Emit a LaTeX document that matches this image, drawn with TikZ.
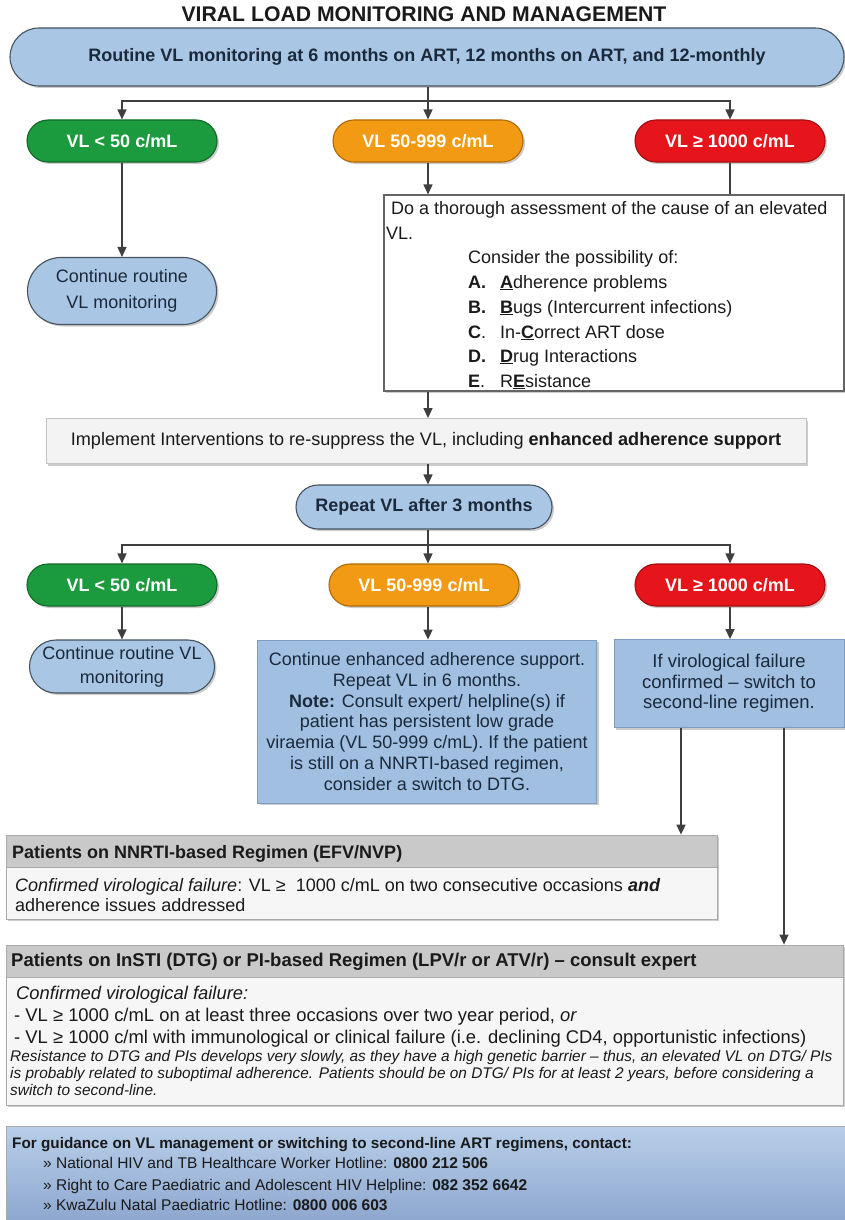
\documentclass[tikz,border=0pt]{standalone}
\usepackage{fontspec}
\setmainfont{Liberation Sans}
\usetikzlibrary{arrows.meta,shapes.misc,shadows}
\definecolor{linec}{HTML}{3F3F3F}
\definecolor{pillblue}{HTML}{AAC6E5}
\definecolor{pillline}{HTML}{46525E}
\definecolor{boxblue}{HTML}{A1BFE1}
\definecolor{boxblueline}{HTML}{7F9DBF}
\definecolor{navy}{HTML}{1B2A3B}
\definecolor{vgreen}{HTML}{1B9B3D}
\definecolor{vgreenline}{HTML}{0F6A28}
\definecolor{vorange}{HTML}{F29A14}
\definecolor{vorangeline}{HTML}{B06A05}
\definecolor{vred}{HTML}{E6151C}
\definecolor{vredline}{HTML}{A30C10}
\definecolor{grayhead}{HTML}{C9C9C9}
\definecolor{graybody}{HTML}{F6F6F6}
\definecolor{grayline}{HTML}{AAAAAA}
\definecolor{implfill}{HTML}{F3F3F3}
\definecolor{footblue}{HTML}{A6C3E4}
\definecolor{txt}{HTML}{1A1A1A}
\tikzset{
  ln/.style={draw=linec, line width=1.5pt},
  arr/.style={ln, -{Triangle[width=9pt,length=10pt]}},
  shad/.style={drop shadow={shadow xshift=2pt, shadow yshift=-2pt, opacity=0.2, fill=black}},
  bluepill/.style={rounded rectangle, draw=pillline, line width=1.1pt, fill=pillblue, text=navy, inner sep=0pt, align=center, shad},
  colpill/.style={rounded rectangle, line width=1.1pt, minimum width=190pt, minimum height=42pt, inner sep=0pt, text=white, font=\fontsize{18}{21}\selectfont\bfseries, shad},
  gpill/.style={colpill, fill=vgreen, draw=vgreenline},
  opill/.style={colpill, fill=vorange, draw=vorangeline},
  rpill/.style={colpill, fill=vred, draw=vredline},
  bluebox/.style={rectangle, fill=boxblue, draw=boxblueline, line width=0.8pt, text=navy, inner sep=0pt, align=center, font=\fontsize{18}{20.8}\selectfont, shad},
  txtline/.style={anchor=base west, inner sep=0pt, text=txt},
  grayframe/.style={rectangle, fill=graybody, draw=grayline, line width=0.8pt, inner sep=0pt, shad},
  grayhdr/.style={rectangle, fill=grayhead, draw=grayline, line width=0.8pt, inner sep=0pt, anchor=north},
}
\begin{document}
\begin{tikzpicture}[x=1pt,y=-1pt]
\useasboundingbox (0,0) rectangle (845,1220);
% title
\node[anchor=base, inner sep=0pt, text=txt, font=\fontsize{21.2}{24}\selectfont\bfseries] (title) at (424,22) {VIRAL LOAD MONITORING AND MANAGEMENT};
% top box
\node[bluepill, minimum width=834pt, minimum height=58pt, font=\fontsize{18}{21}\selectfont\bfseries] (top) at (427,57) {Routine VL monitoring at 6 months on ART, 12 months on ART, and 12-monthly};
% row 1
\node[gpill] (g1) at (122,141) {VL < 50 c/mL};
\node[opill] (o1) at (428,141) {VL 50-999 c/mL};
\node[rpill] (r1) at (730,141) {VL ≥ 1000 c/mL};
\coordinate (j1) at (428,101);
\draw[ln] (top.south -| j1) -- (j1);
\draw[arr] (j1) -| (g1.north);
\draw[arr] (j1) -- (o1.north);
\draw[arr] (j1) -| (r1.north);
% continue 1
\node[bluepill, minimum width=189pt, minimum height=67pt, font=\fontsize{18}{26}\selectfont] (c1) at (122,291) {Continue routine\\VL monitoring};
\draw[arr] (g1.south) -- (c1.north);
% assessment box
\node[rectangle, fill=white, draw=linec!80, line width=1.1pt, minimum width=460pt, minimum height=196pt, inner sep=0pt, shad] (as) at (614,293) {};
\draw[arr] (o1.south) -- (o1.south |- as.north);
\draw[ln] (r1.south) -- (r1.south |- as.north);
\begin{scope}[every node/.style={txtline, font=\fontsize{18}{22}\selectfont}]
\node (as1) at (391,214) {Do a thorough assessment of the cause of an elevated};
\node (as2) at (386,239) {VL.};
\node (as3) at (468,263) {Consider the possibility of:};
\node (asA) at (468,288) {\textbf{A.}};
\node (asAt) at (500,288) {\underline{\textbf{A}}dherence problems};
\node (asB) at (468,313) {\textbf{B.}};
\node (asBt) at (500,313) {\underline{\textbf{B}}ugs (Intercurrent infections)};
\node (asC) at (468,338) {\textbf{C}.};
\node (asCt) at (500,338) {In-\underline{\textbf{C}}orrect ART dose};
\node (asD) at (468,362) {\textbf{D.}};
\node (asDt) at (500,362) {\underline{\textbf{D}}rug Interactions};
\node (asE) at (468,387) {\textbf{E}.};
\node (asEt) at (500,387) {R\underline{\textbf{E}}sistance};
\end{scope}
% implement
\node[rectangle, fill=implfill, draw=grayline!70, line width=0.8pt, minimum width=760pt, minimum height=45pt, inner sep=0pt, text=txt, font=\fontsize{18.1}{21}\selectfont, shad] (impl) at (426,441) {Implement Interventions to re-suppress the VL, including \textbf{enhanced adherence support}};
\draw[arr] (o1 |- as.south) -- (o1 |- impl.north);
% repeat
\node[bluepill, minimum width=256pt, minimum height=44pt, font=\fontsize{18}{21}\selectfont\bfseries] (rep) at (424,507) {Repeat VL after 3 months};
\draw[arr] (o1 |- impl.south) -- (o1 |- rep.north);
% row 2
\node[gpill] (g2) at (122,585) {VL < 50 c/mL};
\node[opill] (o2) at (424,585) {VL 50-999 c/mL};
\node[rpill] (r2) at (730,585) {VL ≥ 1000 c/mL};
\coordinate (j2) at (428,545);
\draw[ln] (o1 |- rep.south) -- (j2);
\draw[arr] (j2) -| (g2.north);
\draw[arr] (j2) -- (o1 |- o2.north);
\draw[arr] (j2) -| (r2.north);
% row 2 outcomes
\node[bluepill, minimum width=185pt, minimum height=53pt, font=\fontsize{18}{24}\selectfont] (c2) at (122,666.5) {Continue routine VL\\monitoring};
\draw[arr] (g2.south) -- (c2.north);
\node[bluebox, minimum width=339pt, minimum height=163pt] (ob) at (427,721.5) {Continue enhanced adherence support.\\Repeat VL in 6 months.\\\textbf{Note:} Consult expert/ helpline(s) if\\patient has persistent low grade\\viraemia (VL 50-999 c/mL). If the patient\\is still on a NNRTI-based regimen,\\consider a switch to DTG.};
\draw[arr] (o1 |- o2.south) -- (o1 |- ob.north);
\node[bluebox, minimum width=230pt, minimum height=88pt, font=\fontsize{18.5}{20.5}\selectfont] (rb) at (729,683.5) {If virological failure\\confirmed – switch to\\second-line regimen.};
\draw[arr] (r2.south) -- (r2.south |- rb.north);
% NNRTI box
\node[grayframe, minimum width=711pt, minimum height=84pt] (nb) at (361.5,877) {};
\node[grayhdr, minimum width=711pt, minimum height=32pt] (nbh) at (nb.north) {};
\node[txtline, font=\fontsize{18}{21}\selectfont\bfseries] (nbt) at (12,858) {Patients on NNRTI-based Regimen (EFV/NVP)};
\node[txtline, font=\fontsize{18}{21}\selectfont] (nb1) at (15,891) {\textit{Confirmed virological failure}: VL ≥\ \ 1000 c/mL on two consecutive occasions \textbf{\textit{and}}};
\node[txtline, font=\fontsize{18}{21}\selectfont] (nb2) at (15,911) {adherence issues addressed};
\coordinate (x1) at (681,0);
\coordinate (x2) at (784,0);
\draw[arr] (rb.south -| x1) -- (nb.north -| x1);
% InSTI box
\node[grayframe, minimum width=837pt, minimum height=160pt] (ib) at (424.5,1025) {};
\node[grayhdr, minimum width=837pt, minimum height=32pt] (ibh) at (ib.north) {};
\draw[arr] (rb.south -| x2) -- (ib.north -| x2);
\node[txtline, font=\fontsize{18.5}{21}\selectfont\bfseries] (ibt) at (11,966) {Patients on InSTI (DTG) or PI-based Regimen (LPV/r or ATV/r) – consult expert};
\node[txtline, font=\fontsize{18.4}{21}\selectfont\itshape] (ib1) at (16,999) {Confirmed virological failure:};
\node[txtline, font=\fontsize{18.4}{21}\selectfont] (ib2) at (14,1021) { - VL ≥ 1000 c/mL on at least three occasions over two year period, \textit{or}};
\node[txtline, font=\fontsize{18.4}{21}\selectfont] (ib3) at (14,1043) { - VL ≥ 1000 c/ml with immunological or clinical failure (i.e. declining CD4, opportunistic infections)};
\node[txtline, font=\fontsize{15.4}{17}\selectfont\itshape] (ib4) at (10,1061) {Resistance to DTG and PIs develops very slowly, as they have a high genetic barrier – thus, an elevated VL on DTG/ PIs};
\node[txtline, font=\fontsize{15.4}{17}\selectfont\itshape] (ib5) at (10,1078) {is probably related to suboptimal adherence. Patients should be on DTG/ PIs for at least 2 years, before considering a};
\node[txtline, font=\fontsize{15.4}{17}\selectfont\itshape] (ib6) at (10,1095) {switch to second-line.};
% footer
\node[rectangle, top color=footblue!80!white, bottom color=footblue!95!blue!90!black, draw=grayline, line width=0.8pt, minimum width=839pt, minimum height=95pt, inner sep=0pt] (fb) at (425.5,1173.5) {};
\node[txtline, font=\fontsize{15.3}{19}\selectfont\bfseries] (fb1) at (12,1148) {For guidance on VL management or switching to second-line ART regimens, contact:};
\node[txtline, font=\fontsize{15.5}{19}\selectfont] (fb2) at (43,1168.5) {» National HIV and TB Healthcare Worker Hotline: \textbf{0800 212 506}};
\node[txtline, font=\fontsize{15.5}{19}\selectfont] (fb3) at (43,1190) {» Right to Care Paediatric and Adolescent HIV Helpline: \textbf{082 352 6642}};
\node[txtline, font=\fontsize{15.5}{19}\selectfont] (fb4) at (43,1210.5) {» KwaZulu Natal Paediatric Hotline: \textbf{0800 006 603}};
\end{tikzpicture}
\end{document}
